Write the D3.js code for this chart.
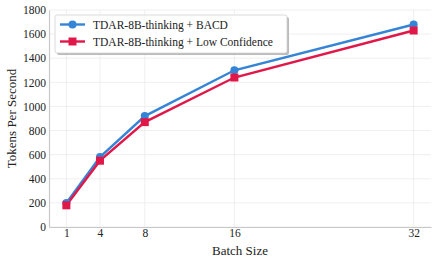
<!DOCTYPE html>
<html>
<head>
  <meta charset="UTF-8">
  <style>
    body { margin: 0; background: #fff; }
  </style>
</head>
<body>
<svg></svg>
<script src="https://d3js.org/d3.v7.min.js"></script>
<script>

let width = 437, height = 263;
let serifFont = "Liberation Serif";

// data
let batchSizes = [1, 4, 8, 16, 32];
let bacd = [200, 580, 920, 1300, 1680];
let lowConf = [180, 550, 870, 1240, 1630];
let seriesNames = ["TDAR-8B-thinking + BACD", "TDAR-8B-thinking + Low Confidence"];
let yTicks = [0, 200, 400, 600, 800, 1000, 1200, 1400, 1600, 1800];

let margin = {left: 49, right: 6, top: 10, bottom: 36};

let svg = d3.select("svg")
    .attr("width", width)
    .attr("height", height);

let x = d3.scaleLinear()
    .domain([-0.55, 33.55])
    .range([margin.left, width - margin.right]);

let y = d3.scaleLinear()
    .domain([0, 1800])
    .range([height - margin.bottom, margin.top]);

let colors = ["#3584d6", "#e0184a"];

// grid
svg.append("g")
    .selectAll("line.hgrid")
    .data(yTicks)
    .enter()
    .append("line")
    .attr("x1", margin.left)
    .attr("x2", width - margin.right)
    .attr("y1", d => y(d))
    .attr("y2", d => y(d))
    .attr("stroke", "#ebebeb")
    .attr("stroke-width", 0.8);

svg.append("g")
    .selectAll("line.vgrid")
    .data(batchSizes)
    .enter()
    .append("line")
    .attr("x1", d => x(d))
    .attr("x2", d => x(d))
    .attr("y1", y(0))
    .attr("y2", y(1800))
    .attr("stroke", "#ebebeb")
    .attr("stroke-width", 0.8);

// axes
let xAxis = svg.append("g")
    .attr("transform", "translate(0," + y(0) + ")")
    .call(d3.axisBottom(x).tickValues(batchSizes).tickFormat(d3.format("d")).tickSize(0).tickPadding(2));
let yAxis = svg.append("g")
    .attr("transform", "translate(" + margin.left + ",0)")
    .call(d3.axisLeft(y).tickValues(yTicks).tickFormat(d3.format("d")).tickSize(0).tickPadding(3));

[xAxis, yAxis].forEach(a => {
    a.attr("font-family", serifFont).attr("font-size", 11.5);
    a.select(".domain").attr("stroke", "#c8c8c8").attr("stroke-width", 1.2);
    a.selectAll("text")
        .attr("fill", "#222")
        .style("font-family", serifFont);
});

svg.append("text")
    .attr("x", (margin.left + width - margin.right) / 2)
    .attr("y", 254.5)
    .attr("text-anchor", "middle")
    .style("font-family", serifFont)
    .style("font-size", "13px")
    .attr("fill", "#222")
    .text("Batch Size");

svg.append("text")
    .attr("transform", "translate(16," + ((margin.top + height - margin.bottom) / 2) + ") rotate(-90)")
    .attr("text-anchor", "middle")
    .style("font-family", serifFont)
    .style("font-size", "13px")
    .attr("fill", "#222")
    .text("Tokens Per Second");

// lines
let allSeries = [bacd, lowConf];
let line = d3.line()
    .x((d, i) => x(batchSizes[i]))
    .y(d => y(d));

allSeries.forEach((s, k) => {
    svg.append("path")
        .datum(s)
        .attr("fill", "none")
        .attr("stroke", colors[k])
        .attr("stroke-width", 2.4)
        .attr("d", line);
});

// markers
svg.append("g")
    .selectAll("circle")
    .data(bacd)
    .enter()
    .append("circle")
    .attr("cx", (d, i) => x(batchSizes[i]))
    .attr("cy", d => y(d))
    .attr("r", 4)
    .attr("fill", colors[0]);

svg.append("g")
    .selectAll("rect")
    .data(lowConf)
    .enter()
    .append("rect")
    .attr("x", (d, i) => x(batchSizes[i]) - 4)
    .attr("y", d => y(d) - 4)
    .attr("width", 8)
    .attr("height", 8)
    .attr("fill", colors[1]);

// legend
let lg = svg.append("g").attr("transform", "translate(55,15)");
lg.append("rect")
    .attr("x", 2).attr("y", 2)
    .attr("width", 232).attr("height", 38)
    .attr("rx", 2)
    .attr("fill", "#bbb");
lg.append("rect")
    .attr("width", 232).attr("height", 38)
    .attr("rx", 2)
    .attr("fill", "#fff")
    .attr("stroke", "#d0d0d0")
    .attr("stroke-width", 0.8);

seriesNames.forEach((name, k) => {
    let cy = 9.5 + k * 17;
    lg.append("line")
        .attr("x1", 5).attr("x2", 30)
        .attr("y1", cy).attr("y2", cy)
        .attr("stroke", colors[k]).attr("stroke-width", 2.4);
    if (k === 0) {
        lg.append("circle").attr("cx", 17.5).attr("cy", cy).attr("r", 4).attr("fill", colors[k]);
    } else {
        lg.append("rect").attr("x", 13.5).attr("y", cy - 4).attr("width", 8).attr("height", 8).attr("fill", colors[k]);
    }
    lg.append("text")
        .attr("x", 38)
        .attr("y", cy + 4)
        .style("font-family", serifFont)
        .style("font-size", "11.5px")
        .attr("fill", "#222")
        .text(name);
});

</script>
</body>
</html>
